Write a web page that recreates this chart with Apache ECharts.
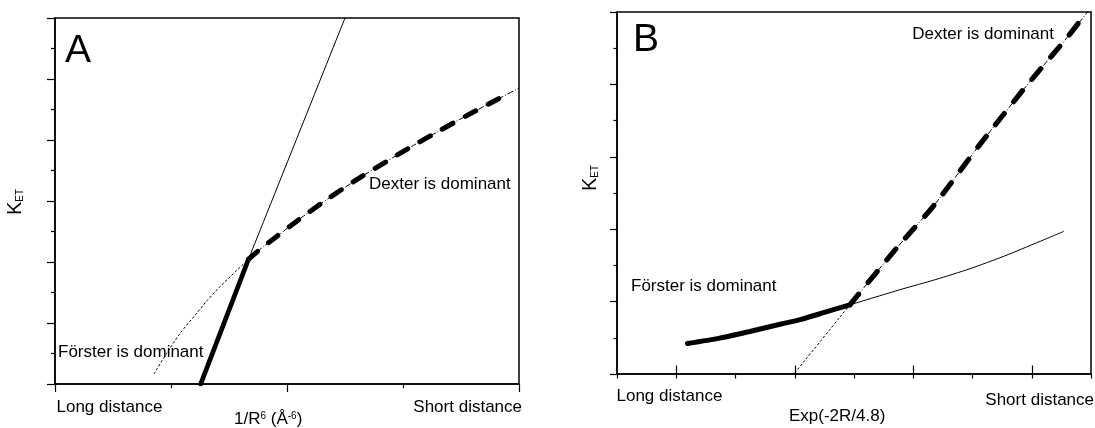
<!DOCTYPE html>
<html>
<head>
<meta charset="utf-8">
<script src="https://cdn.jsdelivr.net/npm/echarts@6/dist/echarts.min.js"></script>
<style>
  html, body { margin: 0; padding: 0; background: #fff; }
  #chart { width: 1095px; height: 428px; }
</style>
</head>
<body>
<div id="chart"></div>
<script>
// ---- Panel A: K_ET against 1/R^6 ----
// Förster regime (thick solid) and its continuation (thin solid)
const forsterA = [[1.256, 0], [1.668, 4.09]];
const forsterExtA = [[1.668, 4.09], [2.5, 12]];
// Dexter curve: dotted below the crossover, thick dashed above it
const dexterLowA = [[0.853, 0.33], [0.963, 1.01], [1.078, 1.66], [1.222, 2.32], [1.308, 2.72], [1.422, 3.19], [1.668, 4.09]];
const dexterA = [[1.668, 4.09], [1.796, 4.50], [2.141, 5.50], [2.371, 6.12], [2.601, 6.70], [2.859, 7.30],
                 [3.089, 7.82], [3.313, 8.30], [3.549, 8.80], [3.808, 9.32], [3.894, 9.49]];
const dexterExtA = [[1.668, 4.09], [1.796, 4.50], [2.141, 5.50], [2.371, 6.12], [2.601, 6.70], [2.859, 7.30],
                    [3.089, 7.82], [3.313, 8.30], [3.549, 8.80], [3.808, 9.32], [4.0, 9.70]];

// ---- Panel B: K_ET against Exp(-2R/4.8) ----
const forsterB = [[1.19, 0.84], [1.73, 0.99], [2.24, 1.175], [2.77, 1.38], [3.09, 1.50], [3.50, 1.70], [3.93, 1.91]];
const forsterExtB = [[3.93, 1.91], [4.80, 2.34], [5.38, 2.61], [5.96, 2.91], [6.54, 3.26], [7.12, 3.65], [7.54, 3.94]];
const dexterLowB = [[3.0, 0.03], [3.93, 1.91]];
const dexterB = [[3.93, 1.91], [4.72, 3.48], [5.35, 4.66], [6.12, 6.33], [6.91, 7.96], [7.60, 9.30], [7.86, 9.85]];
const dexterExtB = [[3.93, 1.91], [4.72, 3.48], [5.35, 4.66], [6.12, 6.33], [6.91, 7.96], [7.60, 9.30], [8.0, 10.12]];
// slots whose centres carry the long ticks of panel B's x axis
const xMajorSlotsB = ['', '', '', ''];

// ---- text ----
const FONT = 'Liberation Sans';
const labels = {
  panelA: 'A', panelB: 'B',
  dexter: 'Dexter is dominant', forster: 'Förster is dominant',
  longDist: 'Long distance', shortDist: 'Short distance',
  xTitleA: '1/R{s|6} (Å{s|-6})', xTitleB: 'Exp(-2R/4.8)', yTitle: 'K{b|ET}'
};

const BLACK = '#000';
const tickStyle = { color: BLACK, width: 1.2 };

function valueAxis(extra) {
  return Object.assign({
    type: 'value',
    axisLine: { show: true, onZero: false, lineStyle: { color: BLACK, width: 1.5 } },
    axisTick: { show: true, length: 8, lineStyle: tickStyle },
    minorTick: { show: true, splitNumber: 2, length: 4, lineStyle: tickStyle },
    axisLabel: { show: false },
    splitLine: { show: false },
    minorSplitLine: { show: false }
  }, extra);
}

function line(data, xi, yi, style) {
  return {
    type: 'line', data: data, xAxisIndex: xi, yAxisIndex: yi,
    symbol: 'none', showSymbol: false, silent: true, smooth: 0.25,
    lineStyle: Object.assign({ color: BLACK }, style)
  };
}

function text(t, x, y, opts) {
  return {
    type: 'text', x: x, y: y, rotation: (opts && opts.rotation) || 0,
    style: Object.assign({
      text: t, fill: BLACK, fontFamily: FONT, fontSize: 17,
      align: 'left', verticalAlign: 'middle'
    }, opts && opts.style)
  };
}

const thinDot = { width: 1, type: [2.5, 2] };
const thinDashDot = { width: 1, type: [6, 2, 1, 2] };
const thickDashA = { width: 5, type: [12, 14], cap: 'round' };
const thickDashB = { width: 5.2, type: [14, 15], cap: 'round' };
const yTitleRich = { b: { fontSize: 10, verticalAlign: 'bottom', fontFamily: FONT } };

const chart = echarts.init(document.getElementById('chart'), null, { renderer: 'canvas' });

chart.setOption({
  animation: false,
  backgroundColor: '#fff',
  grid: [
    { left: 55, top: 18, width: 464, height: 366, show: true, borderColor: BLACK, borderWidth: 1.5, containLabel: false },
    { left: 617, top: 12, width: 474, height: 362, show: true, borderColor: BLACK, borderWidth: 1.5, containLabel: false }
  ],
  xAxis: [
    valueAxis({ gridIndex: 0, min: 0, max: 4, interval: 2 }),
    valueAxis({ gridIndex: 1, min: 0, max: 8, interval: 1,
                axisTick: { show: true, length: 4.5, lineStyle: tickStyle },
                minorTick: { show: false } }),
    {
      type: 'category', gridIndex: 1, data: xMajorSlotsB, boundaryGap: true,
      axisLine: { show: false },
      axisTick: { show: true, alignWithLabel: true, length: 8.5, lineStyle: tickStyle },
      axisLabel: { show: false }, splitLine: { show: false }
    }
  ],
  yAxis: [
    valueAxis({ gridIndex: 0, min: 0, max: 12, interval: 2 }),
    valueAxis({ gridIndex: 1, min: 0, max: 10, interval: 2,
                axisTick: { show: true, length: 7, lineStyle: tickStyle },
                minorTick: { show: true, splitNumber: 2, length: 3.5, lineStyle: tickStyle } })
  ],
  series: [
    // panel A
    line(dexterLowA, 0, 0, thinDot),
    line(forsterExtA, 0, 0, { width: 1 }),
    line(dexterExtA, 0, 0, thinDashDot),
    line(dexterA, 0, 0, thickDashA),
    line(forsterA, 0, 0, { width: 4.8, cap: 'round' }),
    // panel B
    line(dexterLowB, 1, 1, thinDot),
    line(forsterExtB, 1, 1, { width: 1 }),
    line(dexterExtB, 1, 1, thinDashDot),
    line(dexterB, 1, 1, thickDashB),
    line(forsterB, 1, 1, { width: 5, cap: 'round' })
  ],
  graphic: [
    // panel A
    text(labels.panelA, 65, 51, { style: { fontSize: 39 } }),
    text(labels.dexter, 369, 184.5),
    text(labels.forster, 58, 352.5),
    text(labels.longDist, 56.5, 407.5),
    text(labels.shortDist, 522, 407.5, { style: { align: 'right' } }),
    text(labels.xTitleA, 234, 419.5, { style: { rich: { s: { fontSize: 10, verticalAlign: 'top', fontFamily: FONT } } } }),
    text(labels.yTitle, 15, 202, { rotation: Math.PI / 2, style: { align: 'center', fontSize: 20, rich: yTitleRich } }),
    // panel B
    text(labels.panelB, 633, 40.5, { style: { fontSize: 39 } }),
    text(labels.dexter, 1054, 34, { style: { align: 'right' } }),
    text(labels.forster, 631, 286),
    text(labels.longDist, 616.5, 396),
    text(labels.shortDist, 1094, 400, { style: { align: 'right' } }),
    text(labels.xTitleB, 789, 416),
    text(labels.yTitle, 590, 178, { rotation: Math.PI / 2, style: { align: 'center', fontSize: 20, rich: yTitleRich } })
  ]
});
</script>
</body>
</html>
